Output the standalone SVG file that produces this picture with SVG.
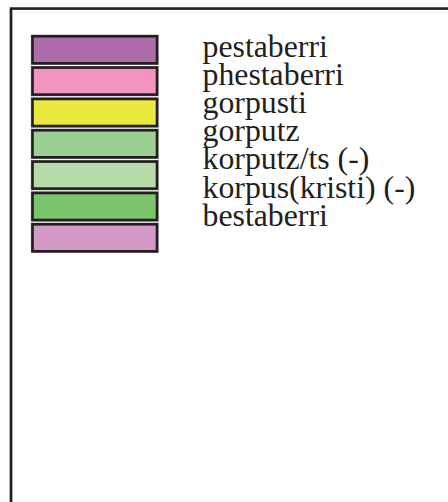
<svg xmlns="http://www.w3.org/2000/svg" width="448" height="502" viewBox="0 0 448 502">
<style>
.sw{stroke:#231f20;stroke-width:2.6}
.halo{fill:none;stroke:#9a9a9a;stroke-width:3.4}
.lbl{font-family:'Liberation Serif','Times New Roman',serif;font-size:31.8px;fill:#231f20}
</style>
<rect width="448" height="502" fill="#ffffff"/>
<path d="M11 502V8.6H448" fill="none" stroke="#9a9a9a" stroke-width="3"/>
<path d="M11 502V8.6H448" fill="none" stroke="#231f20" stroke-width="2.3"/>
<g id="legend-1"><rect class="halo" x="32.5" y="36.3" width="124.5" height="27"/><rect class="sw" x="32.5" y="36.3" width="124.5" height="27" fill="#ad6dad"/><text class="lbl" x="202.5" y="56.5">pestaberri</text></g>
<g id="legend-2"><rect class="halo" x="32.5" y="67.6" width="124.5" height="27"/><rect class="sw" x="32.5" y="67.6" width="124.5" height="27" fill="#f393bf"/><text class="lbl" x="202.5" y="84.7">phestaberri</text></g>
<g id="legend-3"><rect class="halo" x="32.5" y="99" width="124.5" height="27"/><rect class="sw" x="32.5" y="99" width="124.5" height="27" fill="#e9e93f"/><text class="lbl" x="202.5" y="112.9">gorpusti</text></g>
<g id="legend-4"><rect class="halo" x="32.5" y="130.3" width="124.5" height="27"/><rect class="sw" x="32.5" y="130.3" width="124.5" height="27" fill="#9dd194"/><text class="lbl" x="202.5" y="141.1">gorputz</text></g>
<g id="legend-5"><rect class="halo" x="32.5" y="161.6" width="124.5" height="27"/><rect class="sw" x="32.5" y="161.6" width="124.5" height="27" fill="#b7dba8"/><text class="lbl" x="202.5" y="169.3">korputz/ts (-)</text></g>
<g id="legend-6"><rect class="halo" x="32.5" y="193" width="124.5" height="27"/><rect class="sw" x="32.5" y="193" width="124.5" height="27" fill="#7bc56c"/><text class="lbl" x="202.5" y="197.5">korpus(kristi) (-)</text></g>
<g id="legend-7"><rect class="halo" x="32.5" y="224.3" width="124.5" height="27"/><rect class="sw" x="32.5" y="224.3" width="124.5" height="27" fill="#d398c3"/><text class="lbl" x="202.5" y="225.7">bestaberri</text></g>
<g id="connectors"/>
</svg>
